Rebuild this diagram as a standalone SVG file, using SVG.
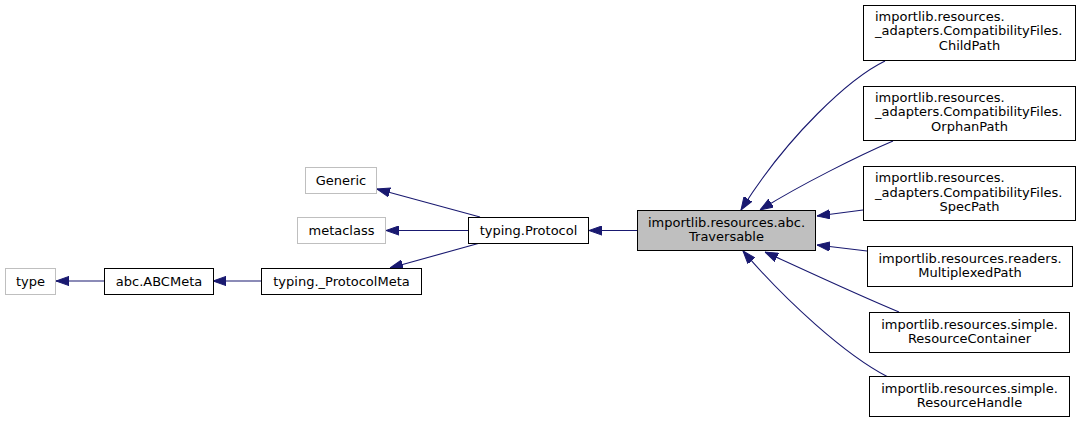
<svg xmlns="http://www.w3.org/2000/svg" width="1081" height="423" viewBox="0 0 1081 423">
<style>
text{font-family:"DejaVu Sans","Liberation Sans",sans-serif;font-size:13px;fill:#000}
.c{text-anchor:middle}
.n rect{fill:#fff;stroke:#000;stroke-width:1}
.u rect{fill:#fff;stroke:#bfbfbf;stroke-width:1}
.hl rect{fill:#bfbfbf;stroke:#000;stroke-width:1}
.e path{fill:none;stroke:#191970;stroke-width:1.1;marker-end:url(#ah)}
</style>
<defs>
<marker id="ah" markerUnits="userSpaceOnUse" viewBox="0 0 13 10" refX="13" refY="5" markerWidth="13" markerHeight="10" orient="auto">
<path d="M0,0.4 L13,5 L0,9.6 z" fill="#191970" stroke="#191970" stroke-width="1"/>
</marker>
</defs>
<rect width="1081" height="423" fill="#fff"/>
<g id="edges" class="e">
<path d="M104,281 L56,281"/>
<path d="M261,281 L213,281"/>
<path d="M480,217 L377,189"/>
<path d="M468,230.5 L386,230.5"/>
<path d="M480,243 L390,268"/>
<path d="M637,230.5 L589,230.5"/>
<path d="M885,61 C850,78 788,135 741,210"/>
<path d="M893,141 C860,155 800,185 760,210"/>
<path d="M863,210 L817,216"/>
<path d="M867,251 L817,245"/>
<path d="M899,312 C860,296 800,268 765,252"/>
<path d="M888,377 C845,355 785,300 743,251"/>
</g>
<g id="type" class="u"><rect x="5.5" y="268.5" width="50" height="26"/><text class="c" x="30.5" y="285.5">type</text></g>
<g id="abcmeta" class="n"><rect x="104.5" y="268.5" width="109" height="26"/><text class="c" x="159" y="285.5">abc.ABCMeta</text></g>
<g id="protocolmeta" class="n"><rect x="261.5" y="268.5" width="160" height="26"/><text class="c" x="341.5" y="285.5">typing._ProtocolMeta</text></g>
<g id="generic" class="u"><rect x="305.5" y="167.5" width="71" height="26"/><text class="c" x="341" y="184.5">Generic</text></g>
<g id="metaclass" class="u"><rect x="297.5" y="217.5" width="88" height="26"/><text class="c" x="341.5" y="234.5">metaclass</text></g>
<g id="protocol" class="n"><rect x="468.5" y="217.5" width="120" height="26"/><text class="c" x="528.5" y="234.5">typing.Protocol</text></g>
<g id="traversable" class="hl"><rect x="637.5" y="210.5" width="178" height="40"/><text class="c" x="726.5" y="227">importlib.resources.abc.</text><text class="c" x="726.5" y="241">Traversable</text></g>
<g id="childpath" class="n"><rect x="863.5" y="5.5" width="212" height="55"/><text x="875" y="20.5">importlib.resources.</text><text x="875" y="35">_adapters.CompatibilityFiles.</text><text class="c" x="969.5" y="49.5">ChildPath</text></g>
<g id="orphanpath" class="n"><rect x="863.5" y="86.5" width="212" height="54"/><text x="875" y="101.5">importlib.resources.</text><text x="875" y="116">_adapters.CompatibilityFiles.</text><text class="c" x="969.5" y="130.5">OrphanPath</text></g>
<g id="specpath" class="n"><rect x="863.5" y="166.5" width="212" height="54"/><text x="875" y="182">importlib.resources.</text><text x="875" y="196.5">_adapters.CompatibilityFiles.</text><text class="c" x="969.5" y="211">SpecPath</text></g>
<g id="multiplexedpath" class="n"><rect x="867.5" y="246.5" width="205" height="40"/><text class="c" x="970" y="262.5">importlib.resources.readers.</text><text class="c" x="970" y="276.5">MultiplexedPath</text></g>
<g id="resourcecontainer" class="n"><rect x="869.5" y="312.5" width="200" height="40"/><text class="c" x="969.5" y="328.5">importlib.resources.simple.</text><text class="c" x="969.5" y="342.5">ResourceContainer</text></g>
<g id="resourcehandle" class="n"><rect x="869.5" y="376.5" width="200" height="40"/><text class="c" x="969.5" y="392.5">importlib.resources.simple.</text><text class="c" x="969.5" y="406.5">ResourceHandle</text></g>
</svg>
